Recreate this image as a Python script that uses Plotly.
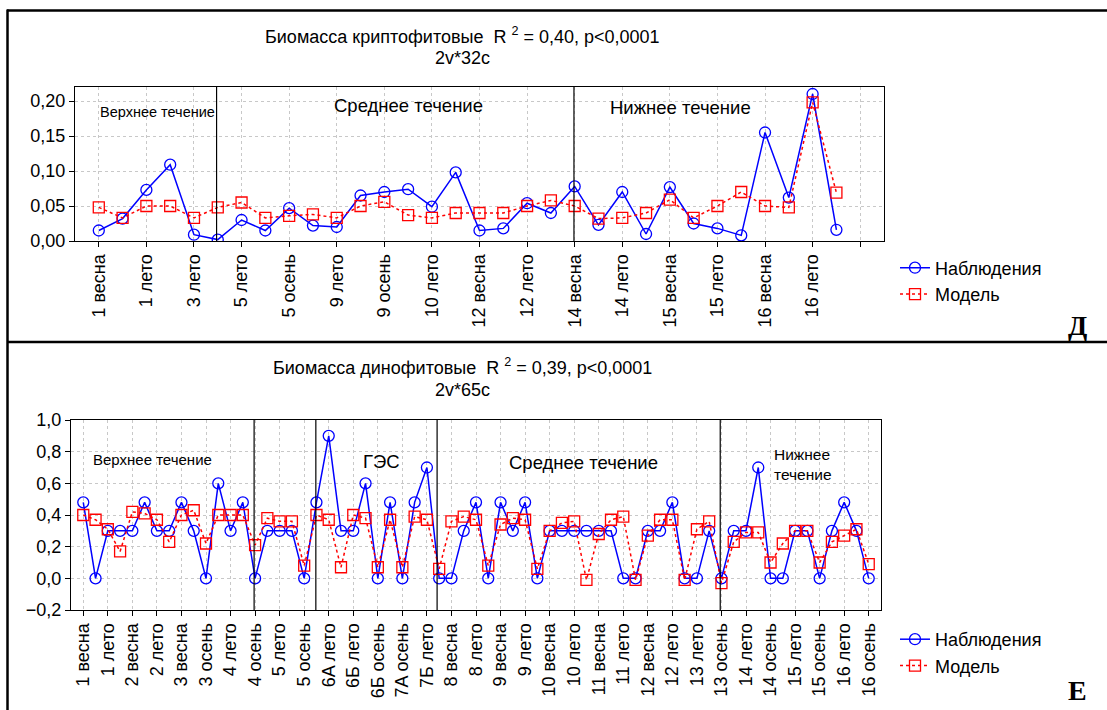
import plotly.graph_objects as go

# ---------------- data: top panel (Д) ----------------
top_tick_labels = ["1 весна", "1 лето", "3 лето", "5 лето", "5 осень", "9 лето", "9 осень",
                   "10 лето", "12 весна", "12 лето", "14 весна", "14 лето", "15 весна",
                   "15 лето", "16 весна", "16 лето", ""]
top_obs = [0.015, 0.032, 0.073, 0.109, 0.009, 0.002, 0.030, 0.015, 0.047, 0.022, 0.020,
           0.065, 0.070, 0.074, 0.049, 0.098, 0.015, 0.018, 0.054, 0.040, 0.078, 0.023,
           0.070, 0.010, 0.077, 0.025, 0.018, 0.008, 0.155, 0.062, 0.210, 0.016]
top_model = [0.048, 0.033, 0.050, 0.050, 0.033, 0.048, 0.055, 0.033, 0.036, 0.038, 0.033,
             0.050, 0.056, 0.037, 0.033, 0.040, 0.040, 0.040, 0.050, 0.058, 0.050, 0.032,
             0.033, 0.040, 0.059, 0.033, 0.050, 0.070, 0.050, 0.048, 0.198, 0.069]
top_dividers = [4.95, 19.97]

# ---------------- data: bottom panel (Е) ----------------
bot_tick_labels = ["1 весна", "1 лето", "2 весна", "2 лето", "3 весна", "3 осень", "4 лето",
                   "4 осень", "5 лето", "5 осень", "6A лето", "6Б лето", "6Б осень",
                   "7A осень", "7Б лето", "8 весна", "8 лето", "9 весна", "9 лето",
                   "10 весна", "10 лето", "11 весна", "11 лето", "12 весна", "12 лето",
                   "13 лето", "13 осень", "14 лето", "14 осень", "15 лето", "15 осень",
                   "16 лето", "16 осень"]
bot_obs = [0.48, 0.00, 0.30, 0.30, 0.30, 0.48, 0.30, 0.30, 0.48, 0.30,
           0.00, 0.60, 0.30, 0.48, 0.00, 0.30, 0.30, 0.30, 0.00, 0.48,
           0.90, 0.30, 0.30, 0.60, 0.00, 0.48, 0.00, 0.48, 0.70, 0.00,
           0.00, 0.30, 0.48, 0.00, 0.48, 0.30, 0.48, 0.00, 0.30, 0.30,
           0.30, 0.30, 0.30, 0.30, 0.00, 0.00, 0.30, 0.30, 0.48, 0.00,
           0.00, 0.30, 0.00, 0.30, 0.30, 0.70, 0.00, 0.00, 0.30, 0.30,
           0.00, 0.30, 0.48, 0.30, 0.00]
bot_model = [0.40, 0.37, 0.31, 0.17, 0.42, 0.41, 0.37, 0.23, 0.40, 0.43,
             0.22, 0.40, 0.40, 0.40, 0.21, 0.38, 0.36, 0.36, 0.08, 0.40,
             0.37, 0.07, 0.40, 0.38, 0.07, 0.37, 0.07, 0.39, 0.37, 0.06,
             0.36, 0.39, 0.37, 0.08, 0.34, 0.38, 0.37, 0.06, 0.30, 0.35,
             0.36, -0.01, 0.28, 0.37, 0.39, -0.01, 0.27, 0.37, 0.37, -0.01,
             0.31, 0.36, -0.03, 0.23, 0.29, 0.29, 0.10, 0.22, 0.30, 0.30,
             0.10, 0.23, 0.27, 0.31, 0.09]
bot_dividers = [13.92, 18.95, 28.83, 51.9]

W, H = 1107, 710
FONT = "Liberation Sans, Arial, sans-serif"
SERIF = "Liberation Serif, Times New Roman, serif"
BLUE = "#0000ff"
RED = "#ff0000"

fig = go.Figure()

obs_style = dict(mode="lines+markers", line=dict(color=BLUE, width=1.5),
                 marker=dict(symbol="circle-open", size=11, color=BLUE, line=dict(width=1.3)))
mod_style = dict(mode="lines+markers", line=dict(color=RED, width=1.5, dash="dot"),
                 marker=dict(symbol="square-open", size=11, color=RED, line=dict(width=1.3)))

fig.add_trace(go.Scatter(x=list(range(len(top_obs))), y=top_obs, name="Наблюдения",
                         xaxis="x", yaxis="y", legend="legend", **obs_style))
fig.add_trace(go.Scatter(x=list(range(len(top_model))), y=top_model, name="Модель",
                         xaxis="x", yaxis="y", legend="legend", **mod_style))
fig.add_trace(go.Scatter(x=list(range(len(bot_obs))), y=bot_obs, name="Наблюдения",
                         xaxis="x2", yaxis="y2", legend="legend2", **obs_style))
fig.add_trace(go.Scatter(x=list(range(len(bot_model))), y=bot_model, name="Модель",
                         xaxis="x2", yaxis="y2", legend="legend2", **mod_style))


def px_x(p):
    return p / W


def px_y(p):
    return 1 - p / H


axis_common = dict(showline=True, linecolor="black", linewidth=1, mirror=True,
                   ticks="outside", ticklen=5, tickcolor="black", automargin=False,
                   showgrid=True, gridcolor="#c8c8c8", griddash="dot", gridwidth=1,
                   zeroline=False, tickfont=dict(family=FONT, size=18, color="black"))

top_ticks = list(range(0, 2 * len(top_tick_labels), 2))
bot_ticks = list(range(0, 2 * len(bot_tick_labels), 2))

fig.update_layout(
    template="none",
    width=W, height=H, margin=dict(l=0, r=0, t=0, b=0, pad=0, autoexpand=False),
    paper_bgcolor="white", plot_bgcolor="white",
    separators=", ",
    font=dict(family=FONT, size=18, color="black"),
    xaxis=dict(domain=[px_x(75), px_x(884)], anchor="y", range=[-1, 33],
               tickmode="array", tickvals=top_ticks, ticktext=top_tick_labels,
               tickangle=-90, **axis_common),
    yaxis=dict(domain=[px_y(241), px_y(87)], anchor="x", range=[0, 0.22],
               tickmode="array", tickvals=[0, 0.05, 0.10, 0.15, 0.20], tickformat=".2f",
               **axis_common),
    xaxis2=dict(domain=[px_x(71), px_x(881)], anchor="y2", range=[-1, 65],
                tickmode="array", tickvals=bot_ticks, ticktext=bot_tick_labels,
                tickangle=-90, **axis_common),
    yaxis2=dict(domain=[px_y(610), px_y(420)], anchor="x2", range=[-0.2, 1.0],
                tickmode="array", tickvals=[-0.2, 0, 0.2, 0.4, 0.6, 0.8, 1.0], tickformat=".1f",
                **axis_common),
    yaxis3=dict(overlaying="y", side="right", anchor="x", range=[0, 0.22],
                tickmode="array", tickvals=[0, 0.05, 0.10, 0.15, 0.20], ticks="inside",
                ticklen=5, tickcolor="black", showticklabels=False, showgrid=False,
                zeroline=False, showline=False, automargin=False),
    yaxis4=dict(overlaying="y2", side="right", anchor="x2", range=[-0.2, 1.0],
                tickmode="array", tickvals=[-0.2, 0, 0.2, 0.4, 0.6, 0.8, 1.0], ticks="inside",
                ticklen=5, tickcolor="black", showticklabels=False, showgrid=False,
                zeroline=False, showline=False, automargin=False),
    legend=dict(x=px_x(895), y=px_y(249.5), xanchor="left", yanchor="top",
                font=dict(family=FONT, size=18), bgcolor="rgba(0,0,0,0)",
                itemwidth=30, tracegroupgap=0),
    legend2=dict(x=px_x(895), y=px_y(621), xanchor="left", yanchor="top",
                 font=dict(family=FONT, size=18), bgcolor="rgba(0,0,0,0)",
                 itemwidth=30, tracegroupgap=0),
    showlegend=True,
)

shapes = []
for d in top_dividers:
    shapes.append(dict(type="line", xref="x", yref="y domain", x0=d, x1=d, y0=0, y1=1,
                       line=dict(color="black", width=1.2)))
for d in bot_dividers:
    shapes.append(dict(type="line", xref="x2", yref="y2 domain", x0=d, x1=d, y0=0, y1=1,
                       line=dict(color="black", width=1.2)))
# outer frames
frame = dict(color="black", width=2.5)
shapes.append(dict(type="line", xref="paper", yref="paper", x0=px_x(7), x1=1,
                   y0=px_y(10.5), y1=px_y(10.5), line=frame))
shapes.append(dict(type="line", xref="paper", yref="paper", x0=px_x(7), x1=1,
                   y0=px_y(342), y1=px_y(342), line=frame))
shapes.append(dict(type="line", xref="paper", yref="paper", x0=px_x(7.5), x1=px_x(7.5),
                   y0=px_y(9.5), y1=0, line=frame))
fig.update_layout(shapes=shapes)


def note(x, y, text, size, xref="paper", yref="paper", xanchor="center", family=FONT):
    return dict(xref=xref, yref=yref, x=x, y=y, text=text, xanchor=xanchor,
                yanchor="middle", align="left", showarrow=False,
                font=dict(family=family, size=size, color="black"))


ann = [
    note(px_x(462), px_y(35), "Биомасса криптофитовые  R <sup>2</sup> = 0,40, p<0,0001", 18),
    note(px_x(462), px_y(58), "2v*32c", 18),
    note(px_x(462), px_y(366), "Биомасса динофитовые  R <sup>2</sup> = 0,39, p<0,0001", 18),
    note(px_x(462), px_y(390), "2v*65c", 18),
    # region labels, top
    note(-0.05, 0.184, "Верхнее течение", 14.5, "x", "y", "left"),
    note(9.8, 0.194, "Среднее течение", 18.5, "x", "y", "left"),
    note(21.4, 0.191, "Нижнее течение", 18.5, "x", "y", "left"),
    # region labels, bottom
    note(0.6, 0.75, "Верхнее течение", 15, "x2", "y2", "left"),
    note(22.6, 0.74, "ГЭС", 18.5, "x2", "y2", "left"),
    note(34.5, 0.733, "Среднее течение", 18.5, "x2", "y2", "left"),
    note(56.1, 0.72, "Нижнее<br>течение", 15.5, "x2", "y2", "left"),
    # panel letters
    note(px_x(1077), px_y(325), "<b>Д</b>", 28, family=SERIF),
    note(px_x(1077), px_y(690), "<b>Е</b>", 28, family=SERIF),
]
fig.update_layout(annotations=ann)

fig.write_html("out.html")
